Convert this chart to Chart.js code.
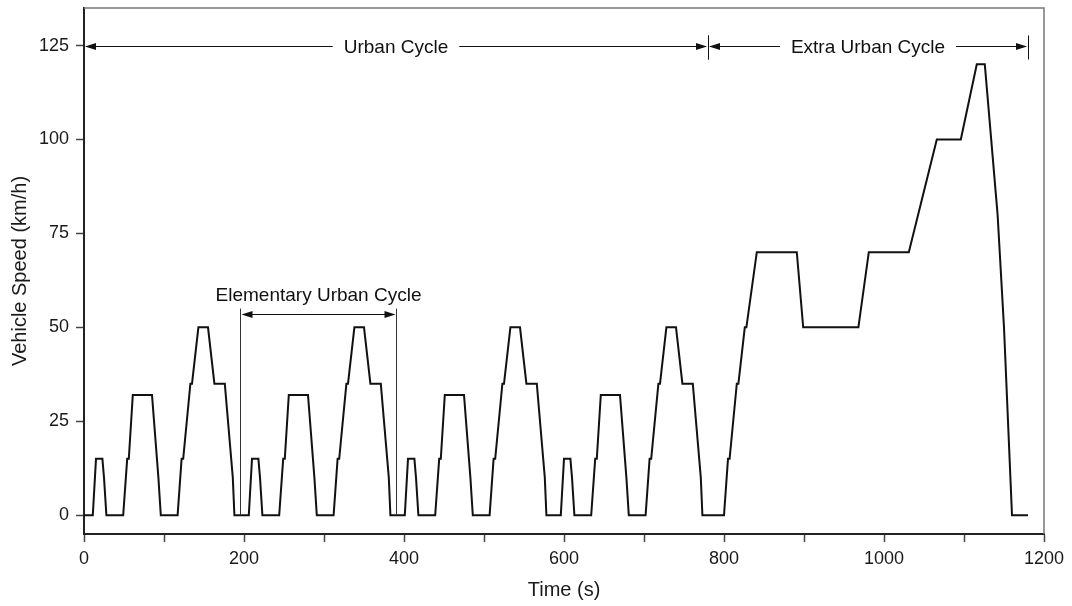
<!DOCTYPE html>
<html>
<head>
<meta charset="utf-8">
<script src="https://cdn.jsdelivr.net/npm/chart.js@4.4.1/dist/chart.umd.min.js"></script>
<style>
  html, body { margin: 0; padding: 0; background: #ffffff; }
  #wrap { width: 1072px; height: 606px; }
</style>
</head>
<body>
<div id="wrap"><canvas id="c" width="1072" height="606"></canvas></div>
<script>
// ---- Data (NEDC driving cycle) ----
const timeSec = [
  0, 11, 15, 23, 25, 28, 49, 54, 56, 61, 85, 93, 96, 117, 122, 124, 133, 135, 143, 155, 163, 176, 186, 188,
  195, 206, 210, 218, 220, 223, 244, 249, 251, 256, 280, 288, 291, 312, 317, 319, 328, 330, 338, 350, 358, 371, 381, 383,
  390, 401, 405, 413, 415, 418, 439, 444, 446, 451, 475, 483, 486, 507, 512, 514, 523, 525, 533, 545, 553, 566, 576, 578,
  585, 596, 600, 608, 610, 613, 634, 639, 641, 646, 670, 678, 681, 702, 707, 709, 718, 720, 728, 740, 748, 761, 771, 773,
  780, 800, 805, 807, 816, 818, 826, 828, 841, 891, 899, 968, 981, 1031, 1066, 1096, 1116, 1126, 1142, 1150, 1160, 1180
];
const speedKmh = [
  0, 0, 15, 15, 10, 0, 0, 15, 15, 32, 32, 10, 0, 0, 15, 15, 35, 35, 50, 50, 35, 35, 10, 0,
  0, 0, 15, 15, 10, 0, 0, 15, 15, 32, 32, 10, 0, 0, 15, 15, 35, 35, 50, 50, 35, 35, 10, 0,
  0, 0, 15, 15, 10, 0, 0, 15, 15, 32, 32, 10, 0, 0, 15, 15, 35, 35, 50, 50, 35, 35, 10, 0,
  0, 0, 15, 15, 10, 0, 0, 15, 15, 32, 32, 10, 0, 0, 15, 15, 35, 35, 50, 50, 35, 35, 10, 0,
  0, 0, 15, 15, 35, 35, 50, 50, 70, 70, 50, 50, 70, 70, 100, 100, 120, 120, 80, 50, 0, 0
];

// Tick values
const xTickValues = [0, 100, 200, 300, 400, 500, 600, 700, 800, 900, 1000, 1100, 1200];
const xLabelValues = [0, 200, 400, 600, 800, 1000, 1200];
const yTickValues = [0, 25, 50, 75, 100, 125];

// Annotation spans
const spanStarts = [0, 780];
const spanEnds = [780, 1180];
const spanLabels = ['Urban Cycle', 'Extra Urban Cycle'];
const spanLevel = [125];
const elemSpan = [195, 390];
const elemLevels = [53.5, 55, 58.5]; // arrow, bracket top, label
const elemLabel = ['Elementary Urban Cycle'];

const FONT = "'Liberation Sans', Arial, Helvetica, sans-serif";
Chart.defaults.font.family = FONT;
Chart.defaults.color = '#1a1a1a';

function arrowHead(ctx, tipX, y, dir) {
  const len = 11, half = 3.5;
  ctx.beginPath();
  ctx.moveTo(tipX, y);
  ctx.lineTo(tipX - dir * len, y - half);
  ctx.lineTo(tipX - dir * len, y + half);
  ctx.closePath();
  ctx.fill();
}

const annotations = {
  id: 'annotations',
  afterDatasetsDraw(chart) {
    const ctx = chart.ctx;
    const xs = chart.scales.x, ys = chart.scales.y;
    const area = chart.chartArea;
    ctx.save();
    // top and right frame
    ctx.strokeStyle = '#777';
    ctx.lineWidth = 1.5;
    ctx.beginPath();
    ctx.moveTo(area.left, area.top);
    ctx.lineTo(area.right, area.top);
    ctx.lineTo(area.right, area.bottom);
    ctx.stroke();

    ctx.fillStyle = '#111';
    ctx.strokeStyle = '#111';
    ctx.lineWidth = 1;
    ctx.font = '19px ' + FONT;
    ctx.textBaseline = 'middle';
    ctx.textAlign = 'center';

    const yA = Math.round(ys.getPixelForValue(spanLevel[0])) + 0.5;
    for (let i = 0; i < spanStarts.length; i++) {
      const x0 = xs.getPixelForValue(spanStarts[i]);
      const x1 = xs.getPixelForValue(spanEnds[i]);
      const cx = (x0 + x1) / 2;
      const w = ctx.measureText(spanLabels[i]).width;
      const gap = 11;
      ctx.beginPath();
      ctx.moveTo(x0 + 2, yA); ctx.lineTo(cx - w / 2 - gap, yA);
      ctx.moveTo(cx + w / 2 + gap, yA); ctx.lineTo(x1 - 2, yA);
      ctx.stroke();
      arrowHead(ctx, x0 + 1, yA, -1);
      arrowHead(ctx, x1 - 1, yA, 1);
      ctx.fillText(spanLabels[i], cx, yA + 1);
      if (spanStarts[i] > 0) {
        ctx.beginPath();
        ctx.moveTo(Math.round(x0) + 0.5, yA - 11); ctx.lineTo(Math.round(x0) + 0.5, yA + 13);
        ctx.stroke();
      }
      ctx.beginPath();
      ctx.moveTo(Math.round(x1) + 0.5, yA - 11); ctx.lineTo(Math.round(x1) + 0.5, yA + 13);
      ctx.stroke();
    }

    // Elementary urban cycle bracket
    const e0 = Math.round(xs.getPixelForValue(elemSpan[0])) + 0.5;
    const e1 = Math.round(xs.getPixelForValue(elemSpan[1])) + 0.5;
    const yBase = ys.getPixelForValue(0);
    const yTop = ys.getPixelForValue(elemLevels[1]);
    const yArr = Math.round(ys.getPixelForValue(elemLevels[0])) + 0.5;
    ctx.strokeStyle = '#333';
    ctx.beginPath();
    ctx.moveTo(e0, yBase); ctx.lineTo(e0, yTop);
    ctx.moveTo(e1, yBase); ctx.lineTo(e1, yTop);
    ctx.stroke();
    ctx.strokeStyle = '#111';
    ctx.beginPath();
    ctx.moveTo(e0 + 4, yArr); ctx.lineTo(e1 - 4, yArr);
    ctx.stroke();
    arrowHead(ctx, e0 + 1, yArr, -1);
    arrowHead(ctx, e1 - 1, yArr, 1);
    ctx.fillText(elemLabel[0], (e0 + e1) / 2, ys.getPixelForValue(elemLevels[2]));
    ctx.restore();
  }
};

const points = timeSec.map((t, i) => ({ x: t, y: speedKmh[i] }));

new Chart(document.getElementById('c'), {
  type: 'line',
  data: {
    datasets: [{
      data: points,
      borderColor: '#111',
      borderWidth: 2,
      pointRadius: 0,
      tension: 0,
      fill: false
    }]
  },
  options: {
    responsive: false,
    animation: false,
    devicePixelRatio: 1,
    layout: { padding: { left: 0, right: 28, top: 8, bottom: 0 } },
    plugins: { legend: { display: false }, tooltip: { enabled: false } },
    scales: {
      x: {
        type: 'linear',
        min: 0, max: 1200,
        afterBuildTicks: s => { s.ticks = xTickValues.map(v => ({ value: v })); },
        afterFit: s => { s.height = 72; s.paddingLeft = 0; s.paddingRight = 0; },
        border: { display: true, color: '#222', width: 2 },
        grid: { drawOnChartArea: false, drawTicks: true, tickLength: 8, tickColor: '#444', tickWidth: 1.5 },
        ticks: {
          autoSkip: false, maxRotation: 0, padding: 6,
          font: { size: 18 }, color: '#1a1a1a',
          callback: v => (xLabelValues.includes(v) ? String(v) : '')
        },
        title: { display: true, text: 'Time (s)', font: { size: 20 }, color: '#1a1a1a', padding: { top: 0, bottom: 4 } }
      },
      y: {
        type: 'linear',
        min: -5, max: 135,
        afterBuildTicks: s => { s.ticks = yTickValues.map(v => ({ value: v })); },
        afterFit: s => { s.width = 84; s.paddingTop = 0; s.paddingBottom = 0; },
        border: { display: true, color: '#222', width: 2 },
        grid: { drawOnChartArea: false, drawTicks: true, tickLength: 8, tickColor: '#444', tickWidth: 1.5 },
        ticks: { padding: 7, font: { size: 18 }, color: '#1a1a1a', callback: v => String(v) },
        title: { display: true, text: 'Vehicle Speed (km/h)', font: { size: 20 }, color: '#1a1a1a', padding: { top: 8, bottom: 0 } }
      }
    }
  },
  plugins: [annotations]
});
</script>
</body>
</html>
